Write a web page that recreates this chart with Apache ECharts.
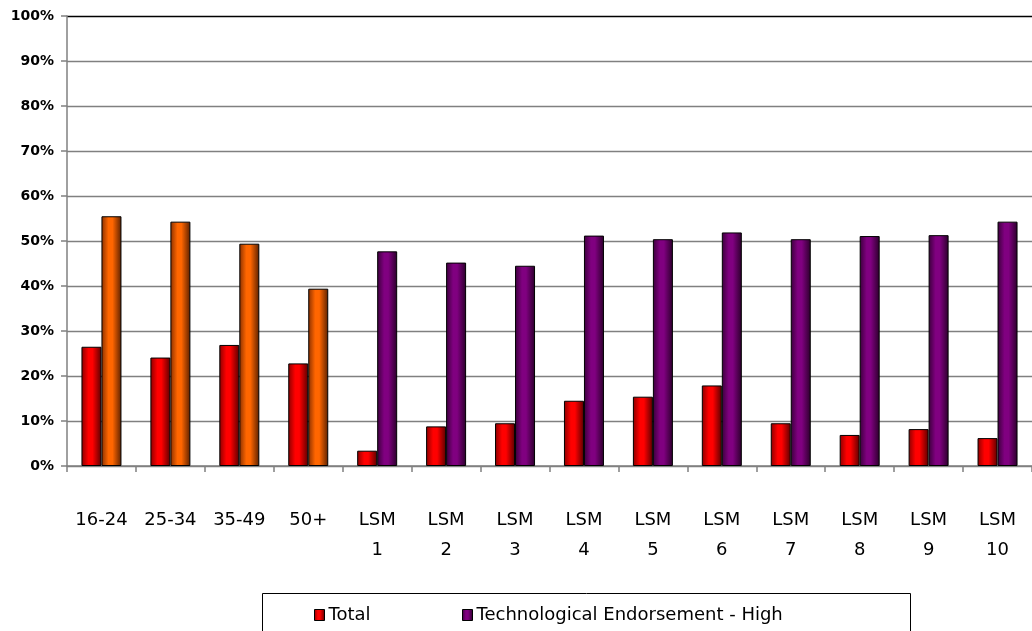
<!DOCTYPE html>
<html>
<head>
<meta charset="utf-8">
<script src="https://cdn.jsdelivr.net/npm/echarts@6/dist/echarts.min.js"></script>
<style>
  html, body { margin: 0; padding: 0; background: #fff; }
  #chart { width: 1032px; height: 631px; }
</style>
</head>
<body>
<div id="chart"></div>
<script>
// Age groups followed by LSM groups 1-10
const categories = ['16-24', '25-34', '35-49', '50+', 'LSM 1', 'LSM 2', 'LSM 3', 'LSM 4', 'LSM 5', 'LSM 6', 'LSM 7', 'LSM 8', 'LSM 9', 'LSM 10'];
// Share of respondents, percent
const totalValues = [26.5, 24.1, 26.9, 22.8, 3.4, 8.8, 9.5, 14.5, 15.4, 17.9, 9.5, 6.9, 8.2, 6.2];
const highValues = [55.5, 54.3, 49.4, 39.4, 47.7, 45.2, 44.5, 51.2, 50.4, 51.9, 50.4, 51.1, 51.3, 54.3];
// The four age groups are drawn in orange
const ageGroupCount = 4;
const seriesNames = ['Total', 'Technological Endorsement - High'];
const yTicks = [0, 10, 20, 30, 40, 50, 60, 70, 80, 90, 100];

// Cylinder-like shading across each bar
function shade(dark, bright, darker) {
  return new echarts.graphic.LinearGradient(0, 0, 1, 0, [
    { offset: 0, color: dark },
    { offset: 0.35, color: bright },
    { offset: 0.55, color: bright },
    { offset: 1, color: darker }
  ]);
}
const redFill = shade('#8a0000', '#ff0000', '#5a0000');
const purpleFill = shade('#3a003a', '#800080', '#2a002a');
const orangeFill = shade('#8a3000', '#ff6600', '#5a2000');

const handFont = '"DejaVu Sans", sans-serif';

const chart = echarts.init(document.getElementById('chart'), null, { renderer: 'canvas' });

const gridColors = yTicks.map((t, i) => (i === yTicks.length - 1 ? '#000000' : '#808080'));

const legendCommon = {
  top: 601,
  icon: 'rect',
  itemWidth: 10, itemHeight: 11, itemGap: 4,
  textStyle: { fontFamily: handFont, fontSize: 18, color: '#000', padding: [0, 0, 0, -1] },
  itemStyle: { borderColor: '#000', borderWidth: 1 }
};

chart.setOption({
  animation: false,
  backgroundColor: '#ffffff',
  grid: { left: 67, right: -9.4, top: 16, bottom: 165, containLabel: false },
  legend: [
    Object.assign({ data: [seriesNames[0]], left: 309 }, legendCommon),
    Object.assign({ data: [seriesNames[1]], left: 457 }, legendCommon)
  ],
  graphic: [
    {
      type: 'rect',
      shape: { x: 262.5, y: 593.5, width: 648, height: 60 },
      style: { fill: 'none', stroke: '#000', lineWidth: 1 },
      silent: true, z: 0
    }
  ],
  xAxis: {
    type: 'category',
    data: categories,
    axisLine: { lineStyle: { color: '#808080', width: 1.5 } },
    axisTick: { show: true, interval: 0, length: 6, lineStyle: { color: '#808080', width: 1.5 } },
    axisLabel: {
      interval: 0,
      margin: 39,
      fontFamily: handFont,
      fontSize: 18,
      lineHeight: 30,
      color: '#000',
      formatter: v => v.replace(' ', '\n')
    }
  },
  yAxis: {
    type: 'value',
    min: 0, max: 100, interval: 10,
    axisLine: { show: true, lineStyle: { color: '#808080', width: 1.5 } },
    axisTick: { show: true, length: 6, lineStyle: { color: '#808080', width: 1.5 } },
    axisLabel: {
      formatter: '{value}%',
      margin: 13,
      fontFamily: '"DejaVu Sans", sans-serif',
      fontWeight: 'bold',
      fontSize: 14,
      color: '#000'
    },
    splitLine: { show: true, lineStyle: { color: gridColors, width: 1.3 } }
  },
  series: [
    {
      name: seriesNames[0],
      type: 'bar',
      data: totalValues,
      barWidth: 20,
      barGap: '0%',
      itemStyle: { color: redFill, borderColor: '#000', borderWidth: 1 }
    },
    {
      name: seriesNames[1],
      type: 'bar',
      data: highValues.map((v, i) => i < ageGroupCount
        ? { value: v, itemStyle: { color: orangeFill } }
        : v),
      barWidth: 20,
      barGap: '0%',
      itemStyle: { color: purpleFill, borderColor: '#000', borderWidth: 1 }
    }
  ]
});
</script>
</body>
</html>
